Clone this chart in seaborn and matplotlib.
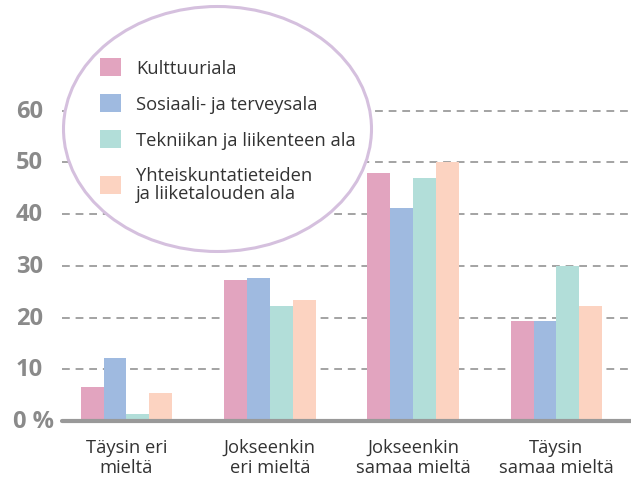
import matplotlib
matplotlib.use("Agg")
import matplotlib.pyplot as plt
from matplotlib.patches import Ellipse, Patch
import seaborn as sns
import pandas as pd

categories = ["Täysin eri\nmieltä", "Jokseenkin\neri mieltä",
              "Jokseenkin\nsamaa mieltä", "Täysin\nsamaa mieltä"]
series_names = ["Kulttuuriala", "Sosiaali- ja terveysala",
                "Tekniikan ja liikenteen ala",
                "Yhteiskuntatieteiden\nja liiketalouden ala"]
kulttuuri = [6.6, 27.3, 47.9, 19.4]
sosiaali = [12.2, 27.7, 41.1, 19.4]
tekniikka = [1.4, 22.3, 46.9, 30.0]
yhteiskunta = [5.4, 23.4, 50.0, 22.3]
yticks = [0, 10, 20, 30, 40, 50, 60]
colors = ["#e2a4bf", "#9fbae0", "#b2ded9", "#fcd3c1"]

rows = []
for name, vals in zip(series_names, [kulttuuri, sosiaali, tekniikka, yhteiskunta]):
    for cat, v in zip(categories, vals):
        rows.append({"kategoria": cat, "ala": name, "osuus": v})
df = pd.DataFrame(rows)

sns.set_theme(style="white")
plt.rcParams["font.family"] = ["Open Sans", "DejaVu Sans"]

W, H = 631, 481
fig = plt.figure(figsize=(W / 100, H / 100), dpi=100)
ax_left, ax_bottom = 62 / W, 59 / H
ax = fig.add_axes([ax_left, ax_bottom, 1 - ax_left, 331 / H])

sns.barplot(data=df, x="kategoria", y="osuus", hue="ala", order=categories,
            hue_order=series_names, palette=colors, width=0.64, saturation=1,
            linewidth=0, edgecolor="none", ax=ax, legend=False, zorder=3)

ax.set_xlim(-0.45, 3.52)
ax.set_ylim(0, 64)
ax.set_xlabel("")
ax.set_ylabel("")
for s in ax.spines.values():
    s.set_visible(False)

# dashed gridlines
for t in yticks[1:]:
    ax.axhline(t, color="#a3a3a3", lw=1.4, ls=(0, (4, 3)), zorder=1)
# baseline
ax.axhline(0, color="#999999", lw=3, zorder=4, clip_on=False)

ax.set_yticks([])
ax.tick_params(axis="x", length=0, pad=12)
ax.set_xticks(range(len(categories)))
ax.set_xticklabels(categories, fontsize=13.2, color="#333333", linespacing=1.2)

# y labels
trans = matplotlib.transforms.blended_transform_factory(fig.transFigure, ax.transData)
for t in yticks:
    if t == 0:
        ax.text(13 / W, t, "0 %", transform=trans, ha="left", va="center",
                fontsize=17, fontweight="bold", color="#8a8a8a")
    else:
        ax.text(43 / W, t, str(t), transform=trans, ha="right", va="center",
                fontsize=17, fontweight="bold", color="#8a8a8a")

# ellipse legend
ell = Ellipse((217.5 / W, 1 - 130 / H), 308 / W, 245 / H, transform=fig.transFigure,
              facecolor="white", edgecolor="#d5c0de", lw=2.2, zorder=10)
fig.patches.append(ell)

handles = [Patch(facecolor=c, edgecolor="none") for c in colors]
leg = fig.legend(handles, series_names, loc="upper left",
                 bbox_to_anchor=(83 / W, 1 - 42 / H), frameon=False,
                 fontsize=13.2, handlelength=1.15, handleheight=1.15,
                 handletextpad=0.85, labelspacing=0.92,
                 labelcolor="#333333")
for txt in leg.get_texts():
    txt.set_linespacing(1.0)
leg.set_zorder(11)

fig.savefig("out.png", dpi=100)
